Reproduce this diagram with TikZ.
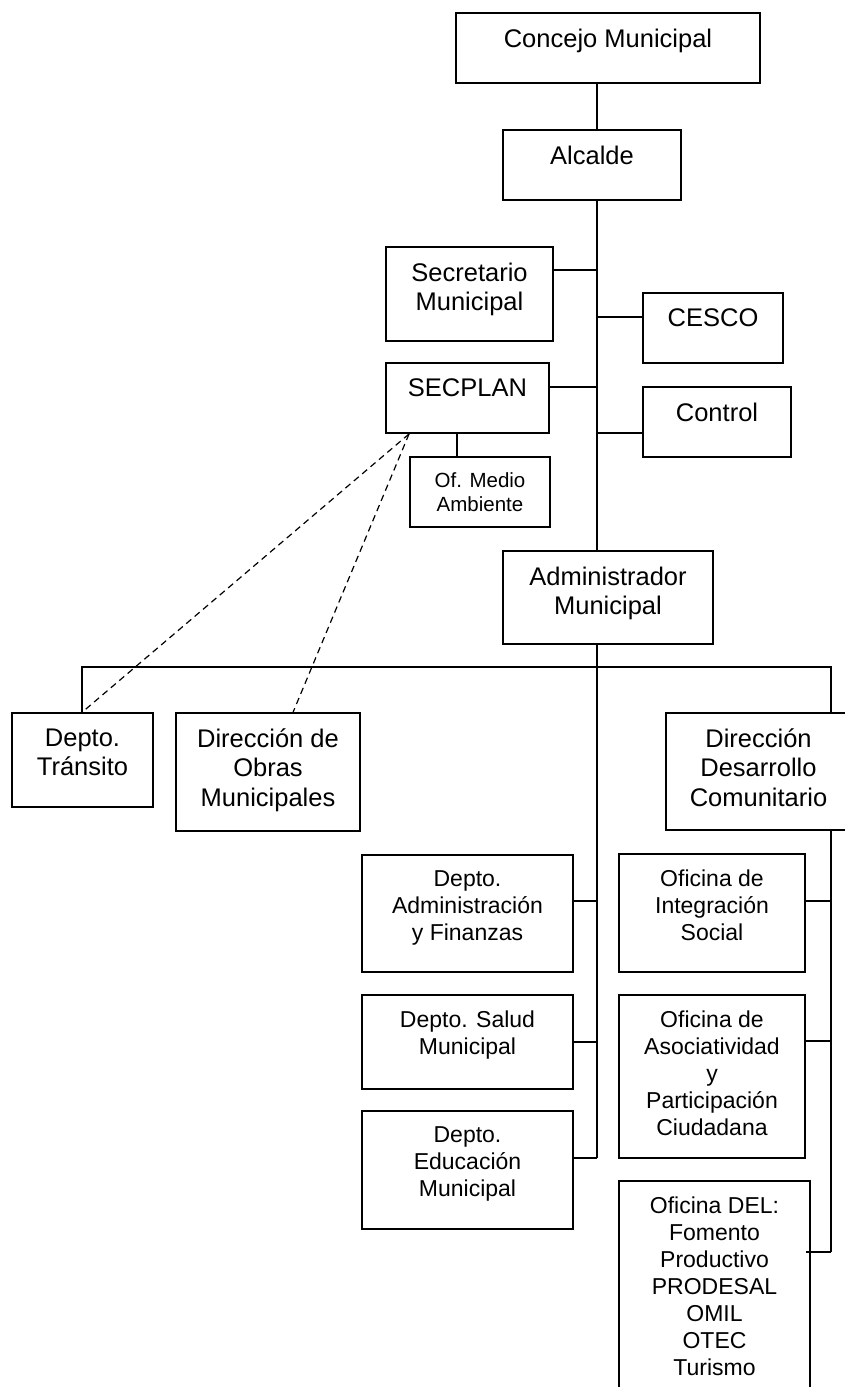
\documentclass[tikz,border=0pt]{standalone}
\usepackage{fontspec}
\setmainfont{Liberation Sans}
\tikzset{
  box/.style={draw, line width=1.3pt, rectangle, inner sep=0pt},
  big/.style={font=\fontsize{25.5}{29.5}\selectfont, align=center, inner sep=0pt},
  mid/.style={font=\fontsize{23}{27}\selectfont, align=center, inner sep=0pt},
  sml/.style={font=\fontsize{20.5}{24}\selectfont, align=center, inner sep=0pt},
  conn/.style={line width=1.3pt},
  dconn/.style={line width=1.2pt, dash pattern=on 6.5pt off 4.5pt}
}
\newcommand\obox[7]{%
  \node[box, minimum width=#4pt, minimum height=#5pt] (#1) at (#2,#3) {};
  \node[#6, anchor=north] (#1-t) at ([yshift=-16pt]#1.north) {#7};}
\begin{document}
\begin{tikzpicture}[x=1pt,y=-1pt]
\fill[white] (0,0) rectangle (845,1387);
\useasboundingbox (0,0) rectangle (845,1387);
% boxes
\obox{concejo}{608}{48}{304}{70}{big}{Concejo Municipal}
\obox{alcalde}{592}{165}{178}{70}{big}{Alcalde}
\obox{secret}{469.5}{294}{167}{94}{big}{Secretario\\Municipal}
\obox{cesco}{713}{328}{140}{70}{big}{CESCO}
\obox{secplan}{467.5}{398}{163}{70}{big}{SECPLAN}
\obox{control}{717}{422}{148}{70}{big}{Control}
\obox{medio}{480}{492}{140}{70}{sml}{Of. Medio\\Ambiente}
\obox{admin}{608}{597.5}{210}{93}{big}{Administrador\\Municipal}
\obox{transito}{82.5}{760}{141}{94}{big}{Depto.\\Tránsito}
\obox{obras}{268}{772}{184}{118}{big}{Dirección de\\Obras\\Municipales}
\obox{dideco}{758.5}{771.5}{185}{117}{big}{Dirección\\Desarrollo\\Comunitario}
\obox{dadmin}{467.5}{913.5}{211}{117}{mid}{Depto.\\Administración\\y Finanzas}
\obox{salud}{467.5}{1042}{211}{94}{mid}{Depto. Salud\\Municipal}
\obox{educ}{467.5}{1170}{211}{118}{mid}{Depto.\\Educación\\Municipal}
\obox{integ}{712}{913}{186}{118}{mid}{Oficina de\\Integración\\Social}
\obox{asoc}{712}{1076.5}{186}{163}{mid}{Oficina de\\Asociatividad\\y\\Participación\\Ciudadana}
\obox{del}{714.5}{1290.5}{191}{219}{mid}{Oficina DEL:\\Fomento\\Productivo\\PRODESAL\\OMIL\\OTEC\\Turismo}
% spine coordinates
\coordinate (s1) at (597,83);
\coordinate (s2) at (597,130);
\coordinate (s3) at (597,200);
\coordinate (s4) at (597,551);
\coordinate (s5) at (597,644);
\coordinate (s6) at (597,1158);
\coordinate (busL) at (82,667);
\coordinate (busR) at (831,667);
\coordinate (r1) at (831,1252);
% main spine
\draw[conn] (s1) -- (s2);
\draw[conn] (s3) -- (s4);
\draw[conn] (s5) -- (s6);
% side links
\draw[conn] (secret.east |- 0,270) -- (597,270);
\draw[conn] (597,317) -- (cesco.west |- 0,317);
\draw[conn] (secplan.east |- 0,387) -- (597,387);
\draw[conn] (597,433) -- (control.west |- 0,433);
\draw[conn] (457,433) -- (medio.north -| 457,0);
% bus
\draw[conn] (transito.north -| busL) -- (busL) -- (busR) -- (dideco.north -| busR);
\draw[conn] (dideco.south -| busR) -- (r1);
% lower left
\draw[conn] (dadmin.east |- 0,901) -- (597,901);
\draw[conn] (salud.east |- 0,1042) -- (597,1042);
\draw[conn] (educ.east |- s6) -- (s6);
% lower right
\draw[conn] (integ.east |- 0,901) -- (831,901);
\draw[conn] (asoc.east |- 0,1041) -- (831,1041);
\draw[conn] (806,1252) -- (r1);
% dashed
\coordinate (dsrc) at (409,434);
\draw[dconn] (dsrc) -- (transito.north -| 82,0);
\draw[dconn] (dsrc) -- (obras.north -| 293,0);
\end{tikzpicture}
\end{document}
